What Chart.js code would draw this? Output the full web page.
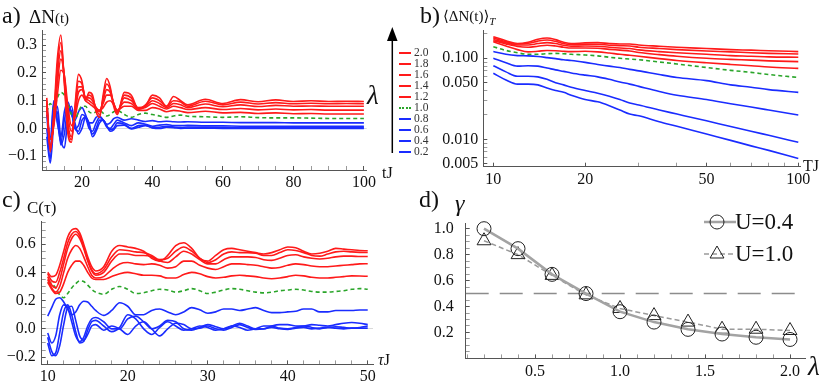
<!DOCTYPE html>
<html>
<head>
<meta charset="utf-8">
<script src="https://cdn.jsdelivr.net/npm/chart.js@4.4.0/dist/chart.umd.min.js"></script>
<style>
  body { margin: 0; width: 831px; height: 384px; position: relative; overflow: hidden; background: #fff;
         font-family: 'Liberation Serif', 'DejaVu Serif', serif; color: #111; }
  canvas { position: absolute; left: 0; top: 0; }
  .lbl { position: absolute; white-space: nowrap; line-height: 1; }
  .it { font-style: italic; }
  .leg { position: absolute; left: 399px; font-size: 11.5px; line-height: 1; color: #333; }
  .leg span { display: inline-block; width: 12px; margin-right: 3px; vertical-align: middle; }
</style>
</head>
<body>
<canvas id="chartA" width="831" height="384"></canvas>
<canvas id="chartB" width="831" height="384"></canvas>
<canvas id="chartC" width="831" height="384"></canvas>
<canvas id="chartD" width="831" height="384"></canvas>

<svg style="position:absolute;left:0;top:0" width="831" height="384">
  <line x1="392.3" y1="153" x2="392.3" y2="38" stroke="#000" stroke-width="1.5"/>
  <polygon points="392.3,27 387,41 397.6,41" fill="#000"/>
</svg>

<div class="lbl" style="left:2px;top:3px;font-size:24px">a)</div>
<div class="lbl" style="left:29px;top:7px;font-size:19px">ΔN<span style="font-size:15px">(t)</span></div>
<div class="lbl" style="left:382px;top:165px;font-size:16px">tJ</div>
<div class="lbl it" style="left:367px;top:82px;font-size:27px">λ</div>

<div class="lbl" style="left:420px;top:3px;font-size:24px">b)</div>
<div class="lbl" style="left:443px;top:9px;font-size:15px">⟨ΔN(t)⟩<sub class="it" style="font-size:11px">T</sub></div>
<div class="lbl" style="left:803px;top:158px;font-size:16px">TJ</div>

<div class="lbl" style="left:2px;top:187px;font-size:24px">c)</div>
<div class="lbl" style="left:27px;top:199px;font-size:17px">C(τ)</div>
<div class="lbl" style="left:378px;top:352px;font-size:16px"><span class="it">τ</span>J</div>

<div class="lbl" style="left:419px;top:187px;font-size:24px">d)</div>
<div class="lbl it" style="left:455px;top:191px;font-size:24px">γ</div>
<div class="lbl it" style="left:808px;top:353px;font-size:27px">λ</div>

<div id="legendA"></div>

<script>
// ---- datos ----
const lambdaLabels = ['2.0', '1.8', '1.6', '1.4', '1.2', '1.0', '0.8', '0.6', '0.4', '0.2'];

// a) ΔN(t)
const tA = [10, 11, 12, 13, 14, 15, 16, 17, 18, 19, 20, 21, 22, 23, 24, 25, 26, 27, 28, 29, 30,
  32, 34, 36, 38, 40, 42, 44, 46, 48, 50, 55, 60, 65, 70, 75, 80, 85, 90, 95, 100];
const dnL20 = [0.11, -0.085, 0.05, 0.25, 0.337, 0.16, -0.02, -0.05, 0.08, 0.195, 0.17, 0.10, 0.13, 0.12, 0.06, 0.04, 0.12, 0.18, 0.15, 0.08, 0.05,
  0.13, 0.12, 0.07, 0.08, 0.12, 0.11, 0.08, 0.115, 0.10, 0.085, 0.105, 0.09, 0.104, 0.096, 0.103, 0.097, 0.10, 0.097, 0.098, 0.097];
const dnL18 = [0.10, -0.08, 0.04, 0.22, 0.31, 0.17, 0.0, -0.04, 0.07, 0.17, 0.16, 0.11, 0.12, 0.11, 0.07, 0.05, 0.11, 0.16, 0.14, 0.09, 0.055,
  0.12, 0.11, 0.07, 0.085, 0.11, 0.10, 0.08, 0.10, 0.095, 0.08, 0.098, 0.085, 0.095, 0.088, 0.093, 0.089, 0.091, 0.089, 0.09, 0.089];
const dnL16 = [0.09, -0.07, 0.03, 0.19, 0.28, 0.18, 0.02, -0.03, 0.06, 0.15, 0.15, 0.11, 0.11, 0.10, 0.075, 0.06, 0.10, 0.14, 0.13, 0.09, 0.06,
  0.11, 0.10, 0.075, 0.08, 0.10, 0.09, 0.075, 0.09, 0.085, 0.075, 0.088, 0.078, 0.085, 0.079, 0.083, 0.08, 0.081, 0.08, 0.08, 0.08];
const dnL14 = [0.08, -0.06, 0.02, 0.16, 0.25, 0.19, 0.05, -0.01, 0.05, 0.13, 0.14, 0.11, 0.10, 0.09, 0.075, 0.065, 0.09, 0.12, 0.12, 0.09, 0.065,
  0.095, 0.09, 0.07, 0.075, 0.09, 0.08, 0.07, 0.08, 0.075, 0.068, 0.075, 0.068, 0.072, 0.067, 0.07, 0.067, 0.068, 0.066, 0.066, 0.066];
const dnL12 = [0.07, -0.04, 0.01, 0.12, 0.21, 0.19, 0.08, 0.01, 0.04, 0.10, 0.12, 0.10, 0.09, 0.08, 0.07, 0.065, 0.075, 0.095, 0.10, 0.085, 0.065,
  0.08, 0.08, 0.065, 0.065, 0.075, 0.07, 0.06, 0.065, 0.062, 0.057, 0.062, 0.056, 0.058, 0.054, 0.056, 0.053, 0.054, 0.052, 0.052, 0.052];
const dnL10 = [0.06, 0.09, 0.07, 0.11, 0.13, 0.12, 0.09, 0.05, 0.03, 0.06, 0.08, 0.08, 0.06, 0.055, 0.06, 0.065, 0.055, 0.045, 0.05, 0.06, 0.065,
  0.05, 0.04, 0.05, 0.055, 0.05, 0.045, 0.04, 0.045, 0.048, 0.044, 0.042, 0.04, 0.042, 0.039, 0.038, 0.038, 0.037, 0.036, 0.036, 0.036];
const dnL08 = [0.09, -0.04, 0.10, 0.02, -0.03, 0.06, 0.095, 0.05, 0.03, 0.06, 0.075, 0.05, 0.02, 0.02, 0.04, 0.045, 0.03, 0.015, 0.02, 0.035, 0.04,
  0.03, 0.035, 0.03, 0.025, 0.028, 0.024, 0.026, 0.024, 0.023, 0.024, 0.022, 0.022, 0.021, 0.021, 0.021, 0.02, 0.02, 0.02, 0.02, 0.02];
const dnL06 = [0.05, -0.08, 0.09, 0.03, -0.05, 0.03, 0.08, 0.06, 0.0, 0.01, 0.05, 0.04, 0.0, -0.01, 0.02, 0.04, 0.03, 0.005, 0.0, 0.015, 0.03,
  0.02, 0.01, 0.02, 0.015, 0.008, 0.012, 0.014, 0.01, 0.01, 0.011, 0.009, 0.009, 0.008, 0.008, 0.008, 0.008, 0.008, 0.008, 0.008, 0.008];
const dnL04 = [0.0, -0.11, 0.06, 0.06, -0.06, -0.02, 0.07, 0.06, 0.0, -0.01, 0.03, 0.04, 0.01, -0.02, 0.0, 0.03, 0.03, 0.01, -0.005, 0.0, 0.02,
  0.015, 0.0, 0.01, 0.012, 0.003, 0.004, 0.008, 0.005, 0.003, 0.005, 0.004, 0.003, 0.003, 0.003, 0.003, 0.003, 0.003, 0.003, 0.003, 0.003];
const dnL02 = [-0.03, -0.125, 0.02, 0.08, -0.04, -0.07, 0.04, 0.08, 0.02, -0.02, 0.0, 0.04, 0.02, -0.03, -0.01, 0.02, 0.03, 0.01, -0.01, -0.005, 0.01,
  0.012, -0.002, 0.004, 0.01, 0.002, 0.0, 0.004, 0.003, 0.0, 0.001, 0.001, 0.0, 0.0, 0.0, 0.0, 0.0, 0.0, 0.0, 0.0, 0.0];

// b) <ΔN(t)>_T
const tB = [10, 11, 12, 13, 14, 15, 16, 17, 18, 20, 22, 24, 26, 28, 30, 35, 40, 50, 60, 70, 80, 100];
const avL20 = [0.185, 0.165, 0.152, 0.158, 0.172, 0.178, 0.170, 0.158, 0.152, 0.155, 0.156, 0.152, 0.150, 0.150, 0.146, 0.141, 0.137, 0.132, 0.128, 0.126, 0.124, 0.121];
const avL18 = [0.178, 0.160, 0.150, 0.153, 0.163, 0.168, 0.162, 0.152, 0.147, 0.149, 0.149, 0.145, 0.143, 0.142, 0.137, 0.132, 0.128, 0.123, 0.120, 0.117, 0.115, 0.113];
const avL16 = [0.171, 0.155, 0.146, 0.146, 0.152, 0.156, 0.152, 0.145, 0.141, 0.142, 0.141, 0.137, 0.134, 0.132, 0.127, 0.121, 0.117, 0.112, 0.108, 0.106, 0.104, 0.103];
const avL14 = [0.165, 0.150, 0.140, 0.137, 0.141, 0.145, 0.142, 0.137, 0.134, 0.134, 0.133, 0.129, 0.126, 0.123, 0.118, 0.111, 0.106, 0.100, 0.097, 0.095, 0.093, 0.091];
const avL12 = [0.160, 0.142, 0.128, 0.120, 0.122, 0.125, 0.124, 0.122, 0.121, 0.122, 0.120, 0.116, 0.112, 0.109, 0.106, 0.099, 0.094, 0.088, 0.084, 0.081, 0.078, 0.075];
const avL10 = [0.139, 0.125, 0.117, 0.112, 0.112, 0.114, 0.115, 0.114, 0.112, 0.110, 0.107, 0.103, 0.100, 0.098, 0.096, 0.090, 0.085, 0.077, 0.071, 0.067, 0.063, 0.058];
const avL08 = [0.121, 0.112, 0.108, 0.107, 0.105, 0.102, 0.099, 0.096, 0.094, 0.089, 0.084, 0.080, 0.077, 0.073, 0.070, 0.063, 0.058, 0.053, 0.047, 0.044, 0.041, 0.038];
const avL06 = [0.100, 0.088, 0.080, 0.081, 0.080, 0.076, 0.072, 0.069, 0.066, 0.062, 0.059, 0.055, 0.051, 0.048, 0.045, 0.039, 0.035, 0.031, 0.0275, 0.025, 0.023, 0.020];
const avL04 = [0.081, 0.068, 0.060, 0.060, 0.059, 0.055, 0.050, 0.047, 0.044, 0.040, 0.037, 0.034, 0.031, 0.028, 0.0265, 0.023, 0.0205, 0.0169, 0.0144, 0.0126, 0.0112, 0.0092];
const avL02 = [0.0653, 0.054, 0.048, 0.048, 0.047, 0.043, 0.040, 0.038, 0.035, 0.031, 0.029, 0.026, 0.023, 0.0205, 0.0195, 0.0165, 0.0145, 0.0116, 0.0097, 0.0083, 0.0073, 0.0058];

// c) C(τ)
const tC = [10, 10.5, 11, 11.5, 12, 12.5, 13, 13.5, 14, 14.5, 15, 15.5, 16,
  17, 18, 19, 20, 21, 22, 23, 24, 25, 26, 27, 28, 29, 30, 31, 32, 33, 34, 35, 36, 37, 38, 39, 40, 41, 42, 43, 44, 45, 46, 47, 48, 49, 50];
const cL20 = [0.40, 0.37, 0.38, 0.45, 0.55, 0.65, 0.70, 0.71, 0.68, 0.60, 0.51, 0.44, 0.41,
  0.44, 0.55, 0.59, 0.58, 0.57, 0.55, 0.50, 0.48, 0.52, 0.59, 0.61, 0.57, 0.50, 0.48, 0.52, 0.56, 0.57, 0.56, 0.55, 0.54, 0.53, 0.54, 0.56, 0.58, 0.575, 0.55, 0.53, 0.535, 0.55, 0.57, 0.565, 0.56, 0.555, 0.553];
const cL18 = [0.39, 0.34, 0.33, 0.40, 0.50, 0.61, 0.67, 0.69, 0.66, 0.58, 0.49, 0.42, 0.39,
  0.42, 0.51, 0.56, 0.555, 0.545, 0.54, 0.52, 0.49, 0.50, 0.55, 0.58, 0.55, 0.50, 0.47, 0.49, 0.53, 0.545, 0.54, 0.54, 0.535, 0.52, 0.52, 0.54, 0.56, 0.555, 0.54, 0.52, 0.515, 0.53, 0.545, 0.55, 0.545, 0.542, 0.541];
const cL16 = [0.37, 0.31, 0.29, 0.35, 0.46, 0.57, 0.64, 0.67, 0.64, 0.57, 0.48, 0.41, 0.38,
  0.40, 0.48, 0.53, 0.53, 0.52, 0.52, 0.51, 0.48, 0.47, 0.51, 0.55, 0.53, 0.49, 0.46, 0.46, 0.49, 0.51, 0.51, 0.51, 0.505, 0.49, 0.485, 0.50, 0.52, 0.525, 0.51, 0.50, 0.495, 0.50, 0.51, 0.515, 0.515, 0.512, 0.512];
const cL14 = [0.35, 0.29, 0.26, 0.30, 0.40, 0.50, 0.56, 0.59, 0.57, 0.51, 0.44, 0.38, 0.36,
  0.37, 0.42, 0.46, 0.47, 0.46, 0.455, 0.46, 0.45, 0.43, 0.44, 0.48, 0.48, 0.45, 0.43, 0.42, 0.44, 0.46, 0.46, 0.455, 0.45, 0.44, 0.43, 0.435, 0.45, 0.46, 0.455, 0.445, 0.44, 0.44, 0.445, 0.45, 0.455, 0.46, 0.461];
const cL12 = [0.33, 0.28, 0.25, 0.26, 0.32, 0.40, 0.45, 0.48, 0.48, 0.45, 0.40, 0.36, 0.35,
  0.35, 0.37, 0.39, 0.40, 0.39, 0.38, 0.38, 0.375, 0.36, 0.36, 0.385, 0.40, 0.39, 0.37, 0.36, 0.365, 0.375, 0.38, 0.375, 0.37, 0.36, 0.355, 0.36, 0.37, 0.38, 0.375, 0.365, 0.36, 0.36, 0.365, 0.37, 0.375, 0.374, 0.372];
const cL10 = [0.33, 0.32, 0.29, 0.24, 0.22, 0.25, 0.29, 0.32, 0.34, 0.335, 0.31, 0.28, 0.26,
  0.245, 0.28, 0.30, 0.28, 0.25, 0.255, 0.27, 0.28, 0.275, 0.26, 0.27, 0.285, 0.27, 0.25, 0.26, 0.275, 0.285, 0.28, 0.27, 0.26, 0.255, 0.26, 0.27, 0.275, 0.28, 0.275, 0.265, 0.26, 0.26, 0.265, 0.27, 0.28, 0.285, 0.28];
const cL08 = [0.09, 0.15, 0.21, 0.22, 0.19, 0.14, 0.10, 0.12, 0.17, 0.195, 0.19, 0.16, 0.13,
  0.095, 0.13, 0.185, 0.16, 0.10, 0.10, 0.13, 0.14, 0.12, 0.10, 0.12, 0.15, 0.135, 0.11, 0.12, 0.14, 0.14, 0.13, 0.14, 0.15, 0.13, 0.115, 0.115, 0.12, 0.125, 0.14, 0.14, 0.12, 0.12, 0.13, 0.13, 0.13, 0.133, 0.133];
const cL06 = [-0.03, -0.10, -0.05, 0.10, 0.17, 0.15, 0.05, -0.05, -0.09, -0.06, 0.02, 0.07, 0.08,
  0.05, 0.0, 0.0, 0.07, 0.09, 0.05, 0.0, 0.02, 0.06, 0.05, 0.0, -0.01, 0.01, 0.03, 0.015, 0.0, 0.02, 0.04, 0.02, 0.0, 0.0, 0.02, 0.03, 0.03, 0.02, 0.02, 0.03, 0.025, 0.02, 0.03, 0.04, 0.045, 0.04, 0.03];
const cL04 = [-0.10, -0.19, -0.17, -0.03, 0.12, 0.17, 0.10, -0.02, -0.10, -0.09, -0.01, 0.05, 0.06,
  0.02, -0.02, 0.01, 0.10, 0.07, 0.0, -0.04, 0.01, 0.05, 0.02, -0.01, 0.0, 0.02, 0.01, -0.01, 0.0, 0.02, 0.01, -0.01, 0.0, 0.02, 0.02, 0.005, 0.0, 0.01, 0.02, 0.01, 0.0, 0.01, 0.015, 0.01, 0.005, 0.01, 0.02];
const cL02 = [-0.06, -0.16, -0.19, -0.12, 0.03, 0.15, 0.16, 0.06, -0.05, -0.08, -0.04, 0.02, 0.03,
  -0.01, 0.02, 0.0, -0.04, 0.02, 0.05, 0.0, -0.05, 0.0, 0.04, 0.03, 0.0, 0.005, 0.02, 0.0, -0.01, 0.01, 0.03, 0.01, -0.005, 0.0, 0.01, 0.0, -0.005, 0.005, 0.01, 0.0, 0.005, 0.01, 0.005, 0.0, 0.005, 0.005, 0.005];

// d) γ(λ)
const dLambda = [0.2, 0.4, 0.6, 0.8, 1.0, 1.2, 1.4, 1.6, 1.8, 2.0];
const gammaU04 = [1.0, 0.846, 0.648, 0.50, 0.36, 0.28, 0.224, 0.188, 0.163, 0.146];
const gammaU10 = [0.907, 0.80, 0.64, 0.49, 0.385, 0.33, 0.28, 0.225, 0.225, 0.215];
const gammaRef = 0.5;
const legendD = ['U=0.4', 'U=1.0'];

// ---- estilo ----
const SERIF = "'Liberation Serif', 'DejaVu Serif', serif";
const RED = '#ff1a1a', GREEN = '#2aa52a', BLUE = '#1a2cff';
const lineColors = [RED, RED, RED, RED, RED, GREEN, BLUE, BLUE, BLUE, BLUE];

/**
 * Crea un dataset de línea para una serie de λ.
 */
function lineSet(times, vals, i) {
  return {
    label: lambdaLabels[i],
    data: times.map((t, k) => ({ x: t, y: vals[k] })),
    borderColor: lineColors[i],
    borderWidth: 1.6,
    borderDash: i === 5 ? [4, 3] : [],
    pointRadius: 0,
    cubicInterpolationMode: 'monotone',
    fill: false
  };
}

/**
 * Eje estilo Mathematica: marcas hacia dentro, ticks menores sin etiqueta.
 */
function axis(o) {
  return {
    type: o.type || 'linear',
    position: o.position,
    min: o.min,
    max: o.max,
    border: { display: true, color: '#555', width: 1 },
    grid: {
      drawOnChartArea: !!o.zeroLine,
      color: c => (o.zeroLine && c.tick && c.tick.value === 0) ? '#d9d9d9' : 'rgba(0,0,0,0)',
      tickColor: '#555',
      tickLength: -4,
      tickWidth: c => (c.tick && o.major.includes(c.tick.value)) ? 1 : 0.6
    },
    ticks: {
      autoSkip: false,
      maxRotation: 0,
      padding: o.pad,
      color: '#111',
      font: { family: SERIF, size: o.fontSize || 16 },
      callback: v => { const i = o.major.indexOf(v); return i >= 0 ? o.labels[i] : ''; }
    },
    afterBuildTicks: s => { s.ticks = o.major.concat(o.minor).map(v => ({ value: v })); },
    afterFit: s => { if (o.position === 'left') s.width = o.size; else s.height = o.size; }
  };
}

function panel(id, datasets, xs, ys, padding, plugins) {
  return new Chart(document.getElementById(id), {
    type: 'line',
    data: { datasets },
    options: {
      responsive: false,
      animation: false,
      devicePixelRatio: 1,
      layout: { padding },
      plugins: { legend: { display: false }, tooltip: { enabled: false } },
      scales: { x: xs, y: ys }
    },
    plugins: plugins || []
  });
}

// a)
panel('chartA',
  [dnL20, dnL18, dnL16, dnL14, dnL12, dnL10, dnL08, dnL06, dnL04, dnL02].map((v, i) => lineSet(tA, v, i)),
  axis({ position: 'bottom', min: 8.65, max: 100.8, size: 20, pad: 7,
    major: [20, 40, 60, 80, 100], labels: ['20', '40', '60', '80', '100'],
    minor: [10, 15, 25, 30, 35, 45, 50, 55, 65, 70, 75, 85, 90, 95] }),
  axis({ position: 'left', min: -0.15, max: 0.355, size: 40, pad: 9, zeroLine: true,
    major: [-0.1, 0, 0.1, 0.2, 0.3], labels: ['\u22120.1', '0.0', '0.1', '0.2', '0.3'],
    minor: [-0.14, -0.12, -0.08, -0.06, -0.04, -0.02, 0.02, 0.04, 0.06, 0.08, 0.12, 0.14, 0.16, 0.18, 0.22, 0.24, 0.26, 0.28, 0.32, 0.34] }),
  { left: 2, top: 30, right: 464.3, bottom: 194 });

// b)
panel('chartB',
  [avL20, avL18, avL16, avL14, avL12, avL10, avL08, avL06, avL04, avL02].map((v, i) => lineSet(tB, v, i)),
  axis({ type: 'logarithmic', position: 'bottom', min: 9.27, max: 101.3, size: 20, pad: 7,
    major: [10, 20, 50, 100], labels: ['10', '20', '50', '100'],
    minor: [30, 40, 60, 70, 80, 90] }),
  axis({ type: 'logarithmic', position: 'left', min: 0.00459, max: 0.2235, size: 48, pad: 9,
    major: [0.005, 0.01, 0.05, 0.1], labels: ['0.005', '0.010', '0.050', '0.100'],
    minor: [0.006, 0.007, 0.008, 0.009, 0.02, 0.03, 0.04, 0.06, 0.07, 0.08, 0.09, 0.2] }),
  { left: 435.3, top: 30, right: 31, bottom: 197.3 });

// c)
panel('chartC',
  [cL20, cL18, cL16, cL14, cL12, cL10, cL08, cL06, cL04, cL02].map((v, i) => lineSet(tC, v, i)),
  axis({ position: 'bottom', min: 9.25, max: 50.66, size: 18, pad: 7,
    major: [10, 20, 30, 40, 50], labels: ['10', '20', '30', '40', '50'],
    minor: [12, 14, 16, 18, 22, 24, 26, 28, 32, 34, 36, 38, 42, 44, 46, 48] }),
  axis({ position: 'left', min: -0.252, max: 0.759, size: 40, pad: 10, zeroLine: true,
    major: [-0.2, 0, 0.2, 0.4, 0.6], labels: ['\u22120.2', '0.0', '0.2', '0.4', '0.6'],
    minor: [-0.15, -0.1, -0.05, 0.05, 0.1, 0.15, 0.25, 0.3, 0.35, 0.45, 0.5, 0.55, 0.65, 0.7, 0.75] }),
  { left: 1.7, top: 221.7, right: 458, bottom: 1 });

// d) leyenda con línea + marcador
const legendDPlugin = {
  id: 'legendD',
  afterDatasetsDraw(chart) {
    const ctx = chart.ctx;
    const rows = [222, 254];
    legendD.forEach((txt, i) => {
      const ds = chart.data.datasets[i];
      const y = rows[i];
      ctx.save();
      ctx.strokeStyle = ds.borderColor;
      ctx.lineWidth = ds.borderWidth;
      ctx.setLineDash(ds.borderDash || []);
      ctx.beginPath(); ctx.moveTo(704, y); ctx.lineTo(736, y); ctx.stroke();
      ctx.setLineDash([]);
      ctx.strokeStyle = ds.pointBorderColor;
      ctx.fillStyle = 'rgba(0,0,0,0)';
      ctx.lineWidth = ds.pointBorderWidth;
      Chart.helpers.drawPoint(ctx, { pointStyle: ds.pointStyle, radius: ds.pointRadius, borderWidth: ds.pointBorderWidth, rotation: 0 }, 717, y);
      ctx.fillStyle = '#111';
      ctx.font = '23px ' + SERIF;
      ctx.textBaseline = 'middle';
      ctx.fillText(txt, 735, y + 1);
      ctx.restore();
    });
  }
};

panel('chartD',
  [
    { label: legendD[0], data: dLambda.map((l, k) => ({ x: l, y: gammaU04[k] })), clip: false,
      borderColor: '#a3a3a3', borderWidth: 2.5, pointStyle: 'circle', pointRadius: 7,
      pointBorderColor: '#222', pointBackgroundColor: 'rgba(0,0,0,0)', pointBorderWidth: 1 },
    { label: legendD[1], data: dLambda.map((l, k) => ({ x: l, y: gammaU10[k] })), clip: false,
      borderColor: '#9a9a9a', borderWidth: 1.5, borderDash: [5, 3], pointStyle: 'triangle', pointRadius: 8,
      pointBorderColor: '#222', pointBackgroundColor: 'rgba(0,0,0,0)', pointBorderWidth: 1 },
    { label: 'ref', data: [{ x: 0.0923, y: gammaRef }, { x: 2.088, y: gammaRef }],
      borderColor: '#8c8c8c', borderWidth: 1.5, borderDash: [23, 11], pointRadius: 0 }
  ],
  axis({ position: 'bottom', min: 0.0923, max: 2.088, size: 18, pad: 8,
    major: [0.5, 1, 1.5, 2], labels: ['0.5', '1.0', '1.5', '2.0'],
    minor: [0.1, 0.2, 0.3, 0.4, 0.6, 0.7, 0.8, 0.9, 1.1, 1.2, 1.3, 1.4, 1.6, 1.7, 1.8, 1.9] }),
  axis({ position: 'left', min: 0, max: 1.04, size: 40, pad: 16,
    major: [0.2, 0.4, 0.6, 0.8, 1.0], labels: ['0.2', '0.4', '0.6', '0.8', '1.0'],
    minor: [0.05, 0.1, 0.15, 0.25, 0.3, 0.35, 0.45, 0.5, 0.55, 0.65, 0.7, 0.75, 0.85, 0.9, 0.95] }),
  { left: 425.7, top: 223.5, right: 26, bottom: 0.5 },
  [legendDPlugin]);

// leyenda de λ del panel a)
const legA = document.getElementById('legendA');
lambdaLabels.forEach((lab, i) => {
  const row = document.createElement('div');
  row.className = 'leg';
  row.style.top = (47 + i * 11) + 'px';
  const seg = document.createElement('span');
  seg.style.borderTop = (i === 5 ? '2px dotted ' : '2px solid ') + lineColors[i];
  row.appendChild(seg);
  row.appendChild(document.createTextNode(lab));
  legA.appendChild(row);
});
</script>
</body>
</html>
